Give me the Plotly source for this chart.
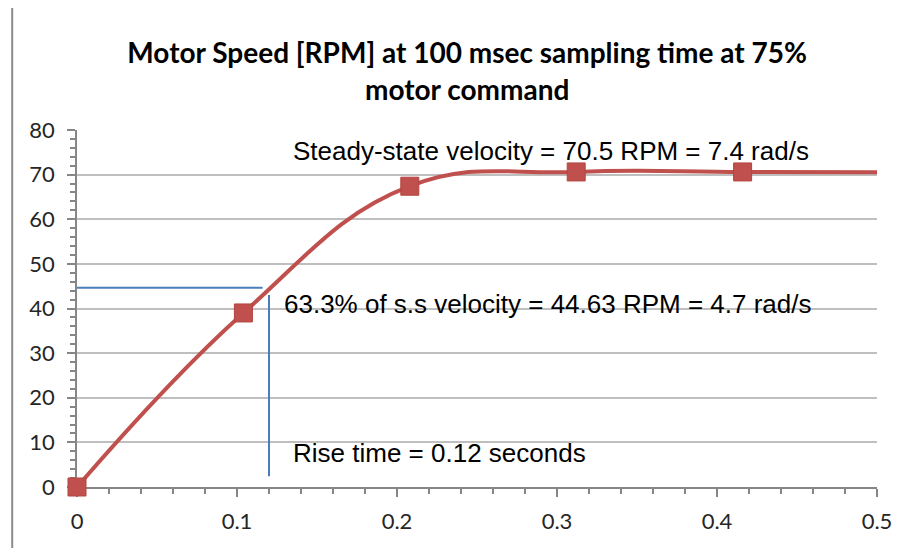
import plotly.graph_objects as go

# Data
time_s = [0, 0.104, 0.208, 0.312, 0.416, 0.52]
speed_rpm = [0, 39, 67.4, 70.6, 70.6, 70.5]
n_markers = 5  # samples drawn with markers inside the visible range

rise_time = 0.12
ss63_rpm = 44.63

title_text = "<b>Motor Speed [RPM] at 100 msec sampling time at 75%<br>motor command</b>"
ann_ss = "Steady-state velocity = 70.5 RPM = 7.4 rad/s"
ann_63 = "63.3% of s.s velocity = 44.63 RPM = 4.7 rad/s"
ann_rise = "Rise time = 0.12 seconds"

red = "#C0504D"
blue = "#4A7EBB"

fig = go.Figure()
fig.add_trace(go.Scatter(
    x=time_s, y=speed_rpm, mode="lines",
    line=dict(color=red, width=4, shape="spline", smoothing=1.2),
    showlegend=False, hoverinfo="skip",
))
fig.add_trace(go.Scatter(
    x=time_s[:n_markers], y=speed_rpm[:n_markers], mode="markers",
    marker=dict(symbol="square", size=18, color=red, line=dict(color="#B5443F", width=1)),
    showlegend=False, cliponaxis=False,
))

# helper lines
fig.add_shape(type="line", x0=0, x1=0.116, y0=ss63_rpm, y1=ss63_rpm,
              line=dict(color=blue, width=2), layer="above")
fig.add_shape(type="line", x0=rise_time, x1=rise_time, y0=2.4, y1=43,
              line=dict(color=blue, width=2), layer="above")

# chart border (top and left)
fig.add_shape(type="line", xref="paper", yref="paper", x0=-0.081, x1=1.1, y0=1.3486, y1=1.3486,
              line=dict(color="#8C8C8C", width=2))
fig.add_shape(type="line", xref="paper", yref="paper", x0=-0.081, x1=-0.081, y0=1.3486, y1=-0.3,
              line=dict(color="#8C8C8C", width=2))

afont = dict(family="Liberation Sans, Arial, sans-serif", size=26, color="#000000")
fig.add_annotation(x=0.134, y=75.4, text=ann_ss, showarrow=False, xanchor="left", yanchor="middle", font=afont)
fig.add_annotation(x=0.128, y=41.1, text=ann_63, showarrow=False, xanchor="left", yanchor="middle", font=afont)
fig.add_annotation(x=0.134, y=7.6, text=ann_rise, showarrow=False, xanchor="left", yanchor="middle", font=afont)

tickfont = dict(family="Lato, Open Sans, sans-serif", size=22, color="#262626")

fig.update_layout(
    width=905, height=548,
    margin=dict(l=68.7, r=36, t=121.5, b=69.3),
    paper_bgcolor="white", plot_bgcolor="white",
    title=dict(text=title_text, x=0.4877, xref="paper", xanchor="center", y=0.899, yanchor="middle",
               font=dict(family="Lato, Open Sans, sans-serif", size=28, color="#000000")),
    xaxis=dict(range=[0, 0.5], dtick=0.1, tick0=0, showgrid=False, zeroline=False,
               showline=True, linecolor="#868686", linewidth=1.5, layer="below traces",
               ticks="outside", ticklen=8, tickcolor="#868686", tickwidth=1.5, ticklabelstandoff=6,
               minor=dict(dtick=0.02, ticks="outside", ticklen=5, tickcolor="#868686", tickwidth=1.5, showgrid=False),
               tickfont=tickfont, tickformat="~g"),
    yaxis=dict(range=[0, 80], dtick=10, showgrid=True, gridcolor="#BFBFBF", gridwidth=1.5, zeroline=False,
               showline=True, linecolor="#868686", linewidth=1.5, layer="below traces",
               ticks="outside", ticklen=8, tickcolor="#868686", tickwidth=1.5, ticklabelstandoff=8,
               minor=dict(dtick=2, ticks="outside", ticklen=5, tickcolor="#868686", tickwidth=1.5, showgrid=False),
               tickfont=tickfont),
)

fig.write_html("out.html")
